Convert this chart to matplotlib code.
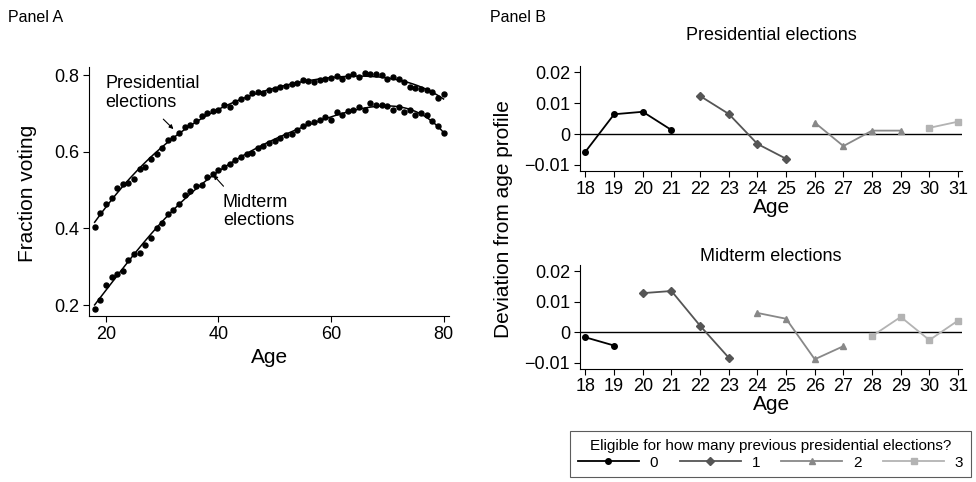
import numpy as np
import matplotlib
matplotlib.use('Agg')
import matplotlib.pyplot as plt

plt.rcParams['font.family'] = ['Liberation Sans', 'DejaVu Sans']

# Panel A: fraction voting by age
ages = list(range(18, 81))
pres_vote = [0.404, 0.441, 0.463, 0.478, 0.506, 0.517, 0.519, 0.530, 0.556, 0.561,
             0.581, 0.594, 0.611, 0.630, 0.637, 0.648, 0.665, 0.670, 0.680, 0.692,
             0.701, 0.705, 0.709, 0.722, 0.717, 0.730, 0.737, 0.742, 0.752, 0.755,
             0.752, 0.761, 0.763, 0.769, 0.771, 0.777, 0.780, 0.787, 0.784, 0.781,
             0.787, 0.789, 0.791, 0.798, 0.789, 0.797, 0.804, 0.796, 0.806, 0.802,
             0.803, 0.800, 0.790, 0.794, 0.789, 0.781, 0.770, 0.765, 0.764, 0.761,
             0.757, 0.741, 0.750]
mid_vote = [0.191, 0.214, 0.252, 0.274, 0.282, 0.289, 0.317, 0.334, 0.336, 0.356,
            0.376, 0.400, 0.413, 0.437, 0.448, 0.463, 0.487, 0.497, 0.510, 0.513,
            0.535, 0.541, 0.552, 0.559, 0.569, 0.578, 0.587, 0.594, 0.596, 0.611,
            0.615, 0.622, 0.629, 0.637, 0.643, 0.646, 0.656, 0.667, 0.674, 0.678,
            0.682, 0.690, 0.684, 0.703, 0.696, 0.707, 0.710, 0.717, 0.710, 0.726,
            0.723, 0.723, 0.720, 0.709, 0.716, 0.704, 0.709, 0.696, 0.702, 0.697,
            0.680, 0.668, 0.649]

# Panel B: deviation from age profile, ages 18-31
dev_ages = list(range(18, 32))
pres_dev = [-0.0057, 0.0064, 0.0072, 0.0013, 0.0123, 0.0065, -0.0032, -0.0080,
            0.0037, -0.0039, 0.0011, 0.0011, 0.0020, 0.0040]
mid_dev = [-0.0017, -0.0044, 0.0128, 0.0135, 0.0021, -0.0084, 0.0063, 0.0044,
           -0.0089, -0.0046, -0.0013, 0.0050, -0.0026, 0.0038]
# number of previous presidential elections eligible for, per age
pres_group = [0, 0, 0, 0, 1, 1, 1, 1, 2, 2, 2, 2, 3, 3]
mid_group = [0, 0, 1, 1, 1, 1, 2, 2, 2, 2, 3, 3, 3, 3]

group_labels = ['0', '1', '2', '3']
group_colors = ['#000000', '#555555', '#888888', '#b3b3b3']
group_markers = ['o', 'D', '^', 's']

fig = plt.figure(figsize=(9.76, 4.82), dpi=100)

def style(ax):
    ax.spines['top'].set_visible(False)
    ax.spines['right'].set_visible(False)
    ax.tick_params(direction='out', length=4, width=0.8, labelsize=13, pad=3)

arrow = dict(arrowstyle='-|>', color='black', lw=0.8, mutation_scale=6,
             shrinkA=0, shrinkB=0)

# ---- Panel A ----
axA = fig.add_axes([0.0912, 0.344, 0.369, 0.517])
x = np.array(ages)
for vals in (pres_vote, mid_vote):
    y = np.array(vals)
    coef = np.polyfit(x, y, 5)
    xs = np.linspace(18, 80, 300)
    axA.plot(xs, np.polyval(coef, xs), color='black', lw=1.1)
    axA.plot(x, y, 'o', color='black', ms=3.6)
axA.set_xlim(17, 81)
axA.set_ylim(0.171, 0.821)
axA.set_xticks([20, 40, 60, 80])
axA.set_yticks([0.2, 0.4, 0.6, 0.8])
axA.set_yticklabels(['0.2', '0.4', '0.6', '0.8'])
axA.set_xlabel('Age', fontsize=15)
style(axA)
fig.text(0.028, 0.598, 'Fraction voting', rotation=90, fontsize=15,
         ha='center', va='center')
axA.text(19.9, 0.753, 'Presidential\nelections', fontsize=13, ha='left',
         va='center', linespacing=1.1)
axA.annotate('', xy=(32.0, 0.659), xytext=(30.2, 0.685), arrowprops=arrow)
axA.text(40.8, 0.444, 'Midterm\nelections', fontsize=13, ha='left',
         va='center', linespacing=1.1)
axA.annotate('', xy=(39.1, 0.539), xytext=(40.9, 0.510), arrowprops=arrow)
fig.text(0.008, 0.963, 'Panel A', fontsize=11.5, va='center')

# ---- Panel B ----
def dev_panel(rect, vals, groups, title, tpad):
    ax = fig.add_axes(rect)
    ax.axhline(0, color='black', lw=1.0)
    for g in range(4):
        xs = [a for a, gg in zip(dev_ages, groups) if gg == g]
        ys = [v for v, gg in zip(vals, groups) if gg == g]
        ax.plot(xs, ys, color=group_colors[g], marker=group_markers[g],
                ms=4, lw=1.3, label=group_labels[g])
    ax.set_xlim(17.8, 31.15)
    ax.set_ylim(-0.012, 0.022)
    ax.set_xticks(dev_ages)
    ax.set_yticks([-0.01, 0, 0.01, 0.02])
    ax.set_yticklabels(['\u22120.01', '0', '0.01', '0.02'])
    ax.set_xlabel('Age', fontsize=15, labelpad=0)
    ax.set_title(title, fontsize=13, pad=tpad)
    style(ax)
    return ax

axB1 = dev_panel([0.594, 0.645, 0.392, 0.218], pres_dev, pres_group,
                 'Presidential elections', 19)
axB2 = dev_panel([0.594, 0.235, 0.392, 0.215], mid_dev, mid_group,
                 'Midterm elections', 3)
fig.text(0.516, 0.545, 'Deviation from age profile', rotation=90,
         fontsize=15, ha='center', va='center')
fig.text(0.502, 0.963, 'Panel B', fontsize=11.5, va='center')

handles, labels = axB1.get_legend_handles_labels()
leg = fig.legend(handles, labels, ncol=4, loc='lower right',
                 bbox_to_anchor=(0.9995, 0.0),
                 title='Eligible for how many previous presidential elections?',
                 fontsize=11, title_fontsize=11, frameon=True, fancybox=False,
                 handlelength=4.0, columnspacing=1.4, handletextpad=0.7,
                 borderpad=0.5, labelspacing=0.2, borderaxespad=0.3)
leg.get_frame().set_edgecolor('#333333')
leg.get_frame().set_linewidth(0.8)

fig.savefig('out.png', dpi=100)
